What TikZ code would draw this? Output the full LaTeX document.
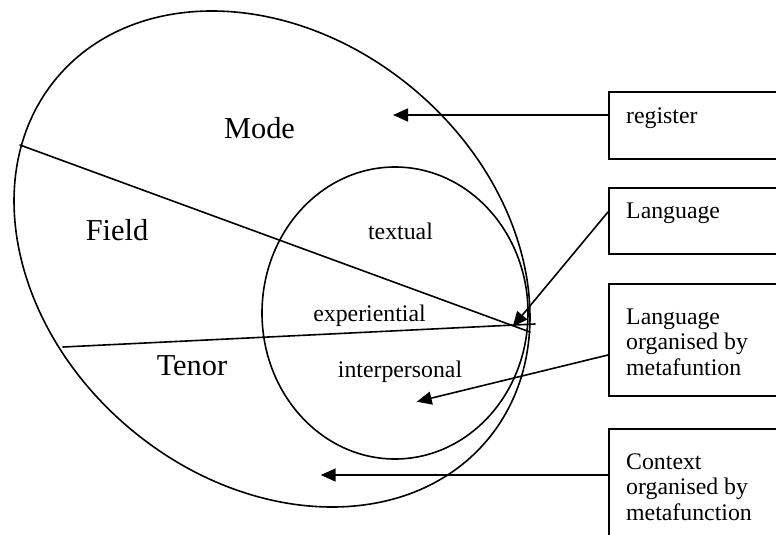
\documentclass[tikz,border=0pt]{standalone}
\usepackage{fontspec}
\setmainfont{Liberation Serif}
\usetikzlibrary{arrows.meta}
\tikzset{
  stroke/.style={line width=1.6pt, line cap=round},
  arr/.style={stroke, -{Triangle[length=15pt,width=13pt]}},
  box/.style={draw, line width=1.8pt, rectangle, inner sep=0pt, anchor=north west, minimum width=200pt},
  bigtext/.style={inner sep=0pt, anchor=base, font=\fontsize{30.4}{33}\selectfont},
  smalltext/.style={inner sep=0pt, anchor=base, font=\fontsize{23.8}{25.5}\selectfont},
  boxtext/.style={inner sep=0pt, anchor=base west, font=\fontsize{23.8}{25.5}\selectfont}
}
\begin{document}
\begin{tikzpicture}[x=1pt, y=-1pt]
\useasboundingbox (0,0) rectangle (776,535);
\clip (0,0) rectangle (776,535);
% outer ellipse (context) and inner circle (language)
\draw[stroke, rotate around={-40.2:(272,259)}] (272,259) ellipse [x radius=281.3pt, y radius=221.2pt];
\draw[stroke] (395,313) ellipse [x radius=133pt, y radius=146pt];
% dividing lines
\coordinate (d1a) at (20,145);
\coordinate (d1b) at (530,332);
\coordinate (d2a) at (63,347);
\coordinate (d2b) at (535,324);
\draw[stroke] (d1a) -- (d1b);
\draw[stroke] (d2a) -- (d2b);
% region labels
\node[bigtext] (mode) at (259.5,138) {Mode};
\node[bigtext] (field) at (117,240) {Field};
\node[bigtext] (tenor) at (192,375) {Tenor};
\node[smalltext] (textual) at (400.5,239) {textual};
\node[smalltext] (exper) at (369.5,321) {experiential};
\node[smalltext] (inter) at (400,377) {interpersonal};
% boxes
\node[box, minimum height=67pt] (reg) at (608,91) {};
\node[box, minimum height=66pt] (lang) at (608,187) {};
\node[box, minimum height=112pt] (lom) at (608,283) {};
\node[box, minimum height=130pt] (ctx) at (608,428) {};
\node[boxtext] (regt) at (626,123) {\begin{tabular}[t]{@{}l@{}}register\end{tabular}};
\node[boxtext] (langt) at (626,218) {\begin{tabular}[t]{@{}l@{}}Language\end{tabular}};
\node[boxtext] (lomt) at (626,324) {\begin{tabular}[t]{@{}l@{}}Language\\organised by\\metafuntion\end{tabular}};
\node[boxtext] (ctxt) at (626,469) {\begin{tabular}[t]{@{}l@{}}Context\\organised by\\metafunction\end{tabular}};
% arrows
\coordinate (regtip) at (393,115);
\coordinate (langtip) at (512.7,326.7);
\coordinate (lomtip) at (416.7,401.7);
\coordinate (ctxtip) at (320.7,475);
\draw[arr] (reg.west |- regtip) -- (regtip);
\draw[arr] ([yshift=-25pt]lang.north west) -- (langtip);
\draw[arr] ([yshift=-72pt]lom.north west) -- (lomtip);
\draw[arr] (ctx.west |- ctxtip) -- (ctxtip);
\end{tikzpicture}
\end{document}
